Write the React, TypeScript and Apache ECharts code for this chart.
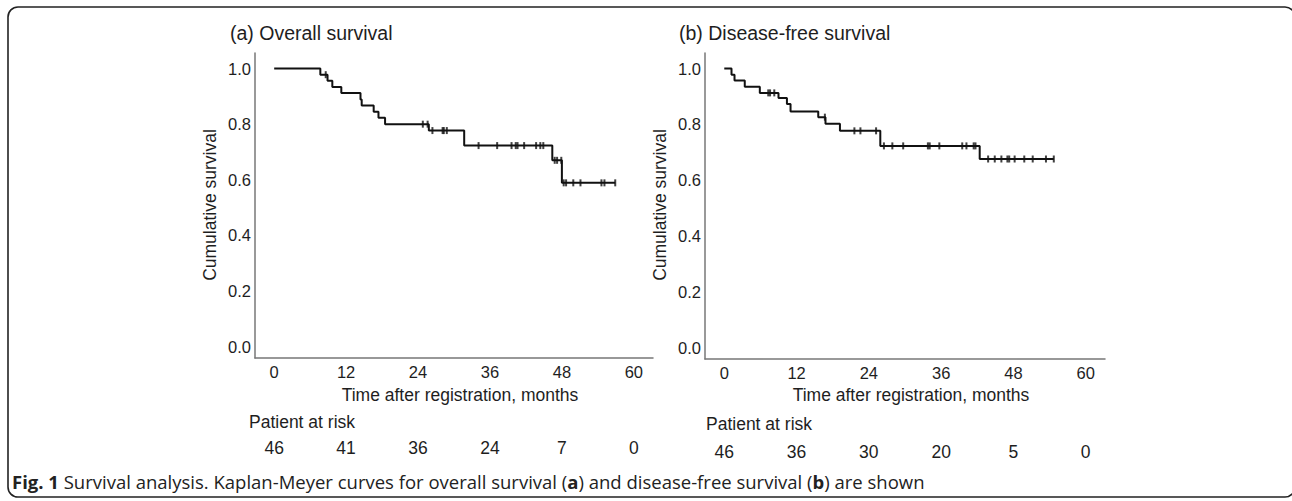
import React, { useEffect, useRef } from "react";
import * as echarts from "echarts";

const xTicks = [0, 12, 24, 36, 48, 60];
const yTicks = [0, 0.2, 0.4, 0.6, 0.8, 1.0];

// (a) Overall survival: step points [time, survival]
const osTimes = [0, 7.7, 8.9, 9.7, 11.2, 14.4, 14.6, 16.6, 17.4, 18.5, 25.8, 31.7, 46.4, 48.0, 56.9];
const osSurv = [1.0, 0.978, 0.956, 0.934, 0.912, 0.889, 0.867, 0.845, 0.823, 0.8, 0.777, 0.723, 0.67, 0.589, 0.589];
const osCensored = [8.6, 24.8, 25.6, 26.4, 28.1, 28.3, 28.8, 34.1, 37.2, 39.6, 40.3, 40.6, 41.7, 43.7, 44.4, 44.9, 46.8, 47.2, 47.9, 48.3, 48.7, 49.9, 51.1, 54.6, 55.1, 56.9];
const osAtRisk = [46, 41, 36, 24, 7, 0];

// (b) Disease-free survival
const dfsTimes = [0, 1.2, 1.7, 3.4, 5.9, 9.0, 10.4, 11.0, 15.6, 16.8, 19.2, 25.9, 42.4, 54.7];
const dfsSurv = [1.0, 0.978, 0.957, 0.935, 0.913, 0.895, 0.873, 0.846, 0.826, 0.802, 0.777, 0.723, 0.676, 0.676];
const dfsCensored = [7.3, 7.6, 8.3, 16.7, 21.6, 22.6, 25.2, 26.5, 27.9, 29.7, 33.8, 34.1, 35.7, 39.5, 40.2, 41.4, 41.7, 43.8, 44.9, 46.0, 47.0, 47.3, 48.2, 49.8, 51.2, 53.4, 54.7];
const dfsAtRisk = [46, 36, 30, 20, 5, 0];

const titles = ["(a) Overall survival", "(b) Disease-free survival"];
const yName = "Cumulative survival";
const xName = "Time after registration, months";
const riskTitle = "Patient at risk";

const FONT = "'Liberation Sans', Arial, sans-serif";
const TXT = "#1e1e1e";

function stepValue(times: number[], surv: number[], t: number) {
  let v = surv[0];
  for (let i = 0; i < times.length; i++) {
    if (times[i] <= t) v = surv[i];
  }
  return v;
}

export default function App() {
  const ref = useRef<HTMLDivElement>(null);
  useEffect(() => {
    if (!ref.current) return;
    const chart = echarts.init(ref.current, null, { renderer: "svg" });
    const xMin = -3.2;
    const xMax = 63.2;
    const yMin = -0.041;
    const yMax = 1.056;
    const grids = [
      { left: 255, top: 53, width: 398, height: 305 },
      { left: 705, top: 53, width: 400, height: 306 },
    ];
    const mainX = (gi: number) => ({
      type: "value",
      gridIndex: gi,
      min: xMin,
      max: xMax,
      axisLine: { show: true, onZero: false, lineStyle: { color: "#777", width: 1.5 } },
      axisTick: { show: false },
      splitLine: { show: false },
      axisLabel: {
        customValues: xTicks,
        margin: 5,
        fontSize: 16.5,
        color: TXT,
        fontFamily: FONT,
      },
    });
    const riskX = (gi: number, risk: number[], offset: number) => ({
      type: "value",
      gridIndex: gi,
      position: "bottom",
      offset,
      min: xMin,
      max: xMax,
      axisLine: { show: false },
      axisTick: { show: false },
      splitLine: { show: false },
      axisLabel: {
        customValues: xTicks,
        margin: 4,
        fontSize: 17.5,
        color: TXT,
        fontFamily: FONT,
        formatter: (v: number) => String(risk[xTicks.indexOf(Math.round(v))]),
      },
    });
    const mainY = (gi: number) => ({
      type: "value",
      gridIndex: gi,
      min: yMin,
      max: yMax,
      axisLine: { show: true, onZero: false, lineStyle: { color: "#777", width: 1.5 } },
      axisTick: { show: false },
      splitLine: { show: false },
      axisLabel: {
        customValues: yTicks,
        margin: 4,
        fontSize: 16.5,
        color: TXT,
        fontFamily: FONT,
        formatter: (v: number) => v.toFixed(1),
      },
    });
    const lineSeries = (idx: number, times: number[], surv: number[]) => ({
      type: "line",
      xAxisIndex: idx,
      yAxisIndex: idx,
      step: "end",
      symbol: "none",
      data: times.map((t, i) => [t, surv[i]]),
      lineStyle: { color: "#111", width: 2 },
    });
    const censorSeries = (idx: number, times: number[], surv: number[], cens: number[]) => ({
      type: "scatter",
      xAxisIndex: idx,
      yAxisIndex: idx,
      symbol: "rect",
      symbolSize: [2, 7],
      data: cens.map((t) => [t, stepValue(times, surv, t)]),
      itemStyle: { color: "#111" },
    });
    const textStyle = (size: number) => ({ fontSize: size, fontFamily: FONT, fill: TXT });
    chart.setOption({
      animation: false,
      grid: grids,
      xAxis: [mainX(0), mainX(1), riskX(0, osAtRisk, 77), riskX(1, dfsAtRisk, 80)],
      yAxis: [mainY(0), mainY(1)],
      series: [
        lineSeries(0, osTimes, osSurv),
        censorSeries(0, osTimes, osSurv, osCensored),
        lineSeries(1, dfsTimes, dfsSurv),
        censorSeries(1, dfsTimes, dfsSurv, dfsCensored),
      ],
      graphic: [
        {
          type: "rect",
          shape: { x: 8, y: 7, width: 1287, height: 490, r: 10 },
          style: { fill: "none", stroke: "#222", lineWidth: 1.6 },
        },
        { type: "text", x: 230, y: 33, style: { text: titles[0], ...textStyle(19.5), verticalAlign: "middle" } },
        { type: "text", x: 679, y: 33, style: { text: titles[1], ...textStyle(19.5), verticalAlign: "middle" } },
        {
          type: "text", x: 210, y: 205, rotation: Math.PI / 2,
          style: { text: yName, ...textStyle(17.5), align: "center", verticalAlign: "middle" },
        },
        {
          type: "text", x: 660, y: 205, rotation: Math.PI / 2,
          style: { text: yName, ...textStyle(17.5), align: "center", verticalAlign: "middle" },
        },
        { type: "text", x: 460, y: 395, style: { text: xName, ...textStyle(17.5), align: "center", verticalAlign: "middle" } },
        { type: "text", x: 911, y: 395, style: { text: xName, ...textStyle(17.5), align: "center", verticalAlign: "middle" } },
        { type: "text", x: 249, y: 422, style: { text: riskTitle, ...textStyle(17.5), verticalAlign: "middle" } },
        { type: "text", x: 706, y: 424, style: { text: riskTitle, ...textStyle(17.5), verticalAlign: "middle" } },
        {
          type: "text",
          x: 12,
          y: 481,
          style: {
            text: "{b|Fig. 1} Survival analysis. Kaplan-Meyer curves for overall survival ({b|a}) and disease-free survival ({b|b}) are shown",
            fontSize: 18.5,
            fontFamily: "'Open Sans', sans-serif",
            fill: "#222",
            verticalAlign: "middle",
            rich: {
              b: { fontSize: 18.5, fontFamily: "'Open Sans', sans-serif", fontWeight: "bold", fill: "#222" },
            },
          },
        },
      ],
    });
    return () => chart.dispose();
  }, []);
  return (
    <div
      ref={ref}
      style={{ position: "absolute", left: 0, top: 0, width: 1292, height: 501, background: "#fff" }}
    />
  );
}
